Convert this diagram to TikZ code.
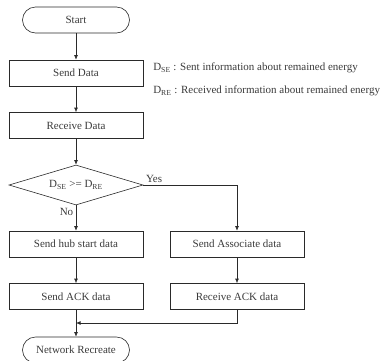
\documentclass[tikz,border=0pt]{standalone}
\usepackage{fontspec}
\setmainfont{Liberation Serif}
\usetikzlibrary{arrows.meta,shapes.geometric}
\definecolor{txt}{HTML}{3A3A3A}
\definecolor{ln}{HTML}{2A2A2A}
\begin{document}
\begin{tikzpicture}[x=1pt,y=-1pt,
  every node/.style={font=\fontsize{11}{13}\selectfont, text=txt},
  box/.style={draw=ln, minimum width=134pt, minimum height=26pt, inner sep=0pt},
  term/.style={draw=ln, rounded corners=13pt, minimum width=107pt, minimum height=26pt, inner sep=0pt},
  dec/.style={draw=ln, diamond, aspect=3.35, minimum width=134pt, minimum height=40pt, inner sep=0pt},
  arr/.style={draw=ln, -{Latex[length=4.5pt,width=3.8pt]}},
  lbl/.style={inner sep=2.5pt},
  legend/.style={anchor=west, inner sep=0pt},
  line width=0.6pt]
\useasboundingbox (0,0) rectangle (386,360);
\node[term] (start) at (76,20) {Start};
\node[box] (send) at (76,73) {Send Data};
\node[box] (recv) at (76,125.5) {Receive Data};
\node[dec] (dec) at (76,185) {D\textsubscript{SE} >= D\textsubscript{RE}};
\node[box] (hub) at (76,244) {Send hub start data};
\node[box] (assoc) at (237,244) {Send Associate data};
\node[box] (sack) at (76,296.5) {Send ACK data};
\node[box] (rack) at (237,296.5) {Receive ACK data};
\node[term] (net) at (76,350) {Network Recreate};
\coordinate (j) at (76,323);
\node[legend] (l1) at (153,68) {D\textsubscript{SE} : Sent information about remained energy};
\node[legend] (l2) at (153,91) {D\textsubscript{RE} : Received information about remained energy};
\draw[arr] (start) -- (send);
\draw[arr] (send) -- (recv);
\draw[arr] (recv) -- (dec.north);
\draw[arr] (dec.south) -- node[pos=0.25, left, lbl] {No} (hub.north);
\draw[arr] (dec.east) -| node[pos=0, above right, lbl] {Yes} (assoc.north);
\draw[arr] (hub) -- (sack);
\draw[arr] (assoc) -- (rack);
\draw[arr] (rack.south) |- (j);
\draw[arr] (sack.south) -- (net.north);
\end{tikzpicture}
\end{document}
